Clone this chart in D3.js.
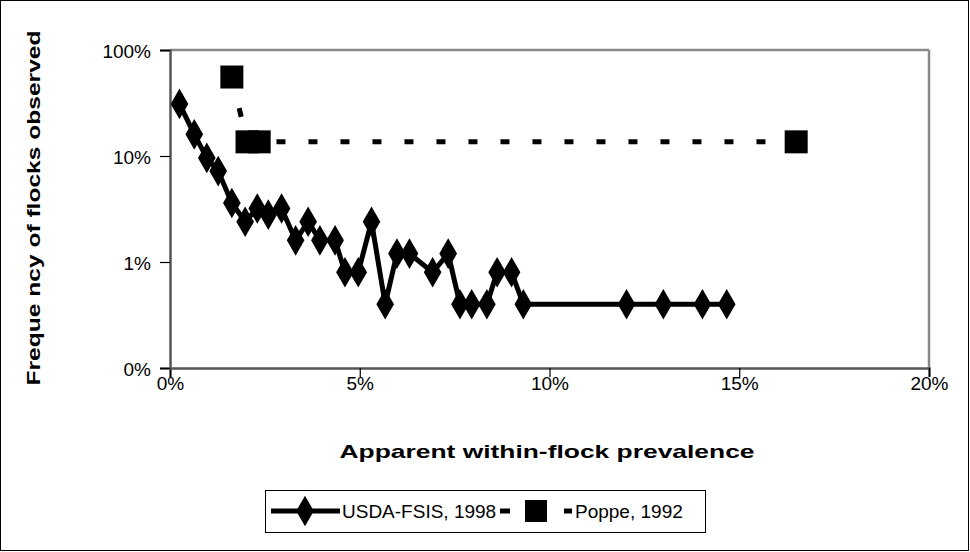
<!DOCTYPE html>
<html><head><meta charset="utf-8">
<script src="https://cdn.jsdelivr.net/npm/d3@7"></script>
<style>body{margin:0;background:#fff}svg{display:block}text{font-family:"Liberation Sans",Arial,sans-serif}</style>
</head><body><svg id="c" width="970" height="552"></svg>
<script>
// Data (x = apparent within-flock prevalence %, y = frequency of flocks %)
const usdaX = [0.25,0.64,0.97,1.27,1.63,1.98,2.30,2.59,2.94,3.31,3.64,3.95,4.35,4.61,4.96,5.31,5.67,5.98,6.31,6.92,7.33,7.64,7.95,8.35,8.62,9.00,9.31,12.03,13.0,14.03,14.67];
const usdaY = [31,16,9.6,7.2,3.6,2.4,3.2,2.8,3.2,1.6,2.4,1.6,1.6,0.8,0.8,2.4,0.4,1.2,1.2,0.8,1.2,0.4,0.4,0.4,0.8,0.8,0.4,0.4,0.4,0.4,0.4];
const poppeX = [1.63,2.03,2.35,16.5];
const poppeY = [55.6,13.6,13.6,13.6];
const xTicks = [0,5,10,15,20];
const yTicks = [0.1,1,10,100];
const yTickLabels = ["0%","1%","10%","100%"];
const seriesNames = ["USDA-FSIS, 1998","Poppe, 1992"];

const svg = d3.select("#c");
const L=170,R=929,T=50,B=368;
const x = d3.scaleLinear().domain([0,20]).range([L,R]);
const y = d3.scaleLog().domain([0.1,100]).range([B,T]);

svg.append("rect").attr("x",0.5).attr("y",0.5).attr("width",968).attr("height",550).attr("fill","none").attr("stroke","#000").attr("stroke-width",1);

svg.append("line").attr("x1",L).attr("x2",R).attr("y1",T).attr("y2",T).attr("stroke","#888").attr("stroke-width",2.5);
svg.append("line").attr("x1",R).attr("x2",R).attr("y1",T).attr("y2",B).attr("stroke","#888").attr("stroke-width",2.5);

const xAxis = d3.axisBottom(x).tickValues(xTicks).tickSize(9).tickFormat(d=>d+"%");
const gx = svg.append("g").attr("transform",`translate(0,${B})`).call(xAxis);
gx.select(".domain").attr("stroke","#555").attr("stroke-width",2.5);
gx.selectAll(".tick line").attr("stroke","#000").attr("stroke-width",1.2);
gx.selectAll(".tick text").attr("font-size",19).attr("fill","#000").attr("y",9).attr("dy","0.71em").attr("font-family","Liberation Sans, Arial");

const yAxis = d3.axisLeft(y).tickValues(yTicks).tickSize(10).tickFormat(d=>yTickLabels[yTicks.indexOf(d)]);
const gy = svg.append("g").attr("transform",`translate(${L},0)`).call(yAxis);
gy.select(".domain").attr("stroke","#555").attr("stroke-width",2.5);
gy.selectAll(".tick line").attr("stroke","#000").attr("stroke-width",1.2);
gy.selectAll(".tick text").attr("font-size",19).attr("fill","#000").attr("x",-19).attr("dy","0.4em").attr("font-family","Liberation Sans, Arial");

svg.append("text").attr("x",547).attr("y",458).attr("text-anchor","middle").attr("font-size",19).attr("font-weight","bold")
  .attr("textLength",415).attr("lengthAdjust","spacingAndGlyphs").text("Apparent within-flock prevalence");
svg.append("text").attr("transform","translate(40,208) rotate(-90)").attr("text-anchor","middle").attr("font-size",19).attr("font-weight","bold")
  .attr("textLength",355).attr("lengthAdjust","spacingAndGlyphs").text("Freque ncy of flocks observed");

const usda = usdaX.map((v,i)=>[v,usdaY[i]]);
const poppe = poppeX.map((v,i)=>[v,poppeY[i]]);
const line = d3.line().x(d=>x(d[0])).y(d=>y(d[1]));
svg.append("path").attr("d",line(poppe)).attr("fill","none").attr("stroke","#000").attr("stroke-width",5).attr("stroke-dasharray","9,23");
svg.append("path").attr("d",line(usda)).attr("fill","none").attr("stroke","#000").attr("stroke-width",5).attr("stroke-linejoin","round");
const diamond = d3.symbol().type(d3.symbolDiamond).size(270);
svg.selectAll(".dm").data(usda).join("path").attr("class","dm").attr("transform",d=>`translate(${x(d[0])},${y(d[1])})`)
  .attr("d",diamond).attr("fill","#000");
svg.selectAll(".sq").data(poppe).join("rect").attr("class","sq").attr("x",d=>x(d[0])-11.5).attr("y",d=>y(d[1])-11.5).attr("width",23).attr("height",23).attr("fill","#000");

const lg = svg.append("g");
lg.append("rect").attr("x",265.5).attr("y",490.5).attr("width",440).attr("height",42).attr("fill","#fff").attr("stroke","#000").attr("stroke-width",1);
lg.append("line").attr("x1",271).attr("x2",340).attr("y1",511).attr("y2",511).attr("stroke","#000").attr("stroke-width",5);
lg.append("path").attr("transform","translate(305,511)").attr("d",diamond).attr("fill","#000");
lg.append("text").attr("x",342).attr("y",518).attr("font-size",19).text(seriesNames[0]);
lg.append("line").attr("x1",500).attr("x2",572).attr("y1",511).attr("y2",511).attr("stroke","#000").attr("stroke-width",5).attr("stroke-dasharray","10,22");
lg.append("rect").attr("x",525).attr("y",500).attr("width",22).attr("height",22).attr("fill","#000");
lg.append("text").attr("x",575).attr("y",518).attr("font-size",19).text(seriesNames[1]);
</script></body></html>
